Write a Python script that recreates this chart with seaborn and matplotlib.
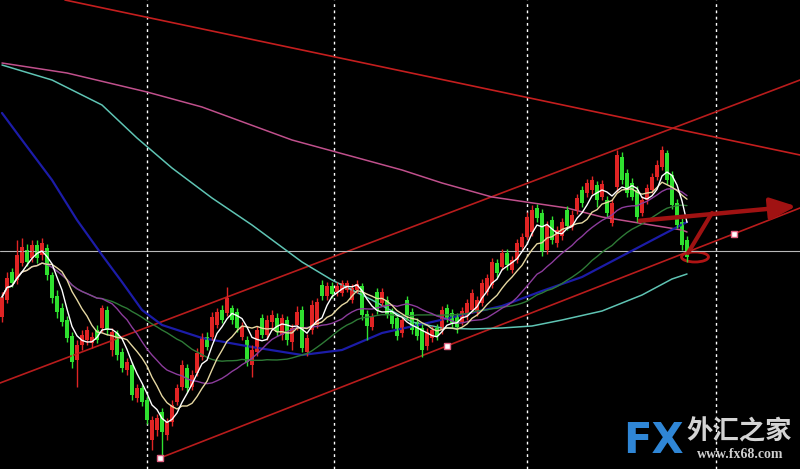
import numpy as np
import pandas as pd
import matplotlib
matplotlib.use('Agg')
import matplotlib.pyplot as plt
from matplotlib.patches import Ellipse
import seaborn as sns

sns.set_theme(style='dark', rc={'axes.facecolor': 'black', 'figure.facecolor': 'black'})
plt.rcParams['font.family'] = ['Noto Sans CJK SC', 'DejaVu Sans']

# candles (price units, one per bar)
opens = [152, 169, 197, 189, 206, 219, 211, 224, 214, 221, 194, 173, 161, 149, 133, 109, 124, 129, 126, 139,
         141, 159, 119, 136, 117, 99, 104, 71, 81, 69, 29, 39, 57, 34, 47, 67, 82, 101, 82, 96,
         112, 132, 132, 144, 159, 156, 161, 157, 132, 129, 104, 117, 151, 134, 147, 151, 134, 149, 127, 144,
         159, 117, 139, 144, 184, 173, 183, 177, 176, 179, 169, 179, 183, 155, 142, 177, 166, 169, 157, 151,
         136, 169, 157, 147, 141, 123, 131, 141, 139, 161, 156, 152, 147, 153, 159, 156, 166, 177, 184, 206,
         202, 216, 199, 209, 222, 232, 237, 261, 256, 219, 249, 226, 233, 259, 242, 259, 279, 276, 279, 284,
         272, 269, 246, 282, 312, 296, 286, 279, 256, 269, 279, 292, 302, 316, 294, 266, 247, 229]
closes = [172, 191, 186, 214, 222, 207, 224, 211, 226, 194, 171, 157, 147, 131, 107, 124, 134, 139, 132, 129,
          161, 139, 137, 114, 101, 107, 74, 81, 67, 49, 49, 51, 37, 47, 64, 81, 104, 81, 94, 116,
          131, 122, 152, 157, 149, 171, 149, 141, 142, 107, 119, 139, 134, 149, 154, 137, 151, 129, 141, 157,
          121, 131, 164, 167, 173, 183, 175, 183, 186, 186, 181, 185, 154, 143, 152, 159, 177, 155, 145, 133,
          149, 153, 139, 133, 119, 137, 139, 133, 159, 151, 146, 142, 158, 166, 176, 169, 186, 191, 207, 196,
          216, 204, 209, 226, 232, 252, 259, 251, 217, 244, 229, 239, 247, 243, 254, 271, 266, 286, 289, 269,
          285, 256, 266, 314, 289, 276, 272, 252, 269, 281, 292, 304, 319, 289, 264, 244, 224, 212]
highs = [177, 197, 201, 229, 231, 225, 229, 229, 231, 225, 197, 179, 166, 153, 137, 129, 139, 143, 137, 144,
         164, 163, 141, 139, 121, 111, 107, 85, 84, 73, 53, 55, 61, 51, 69, 85, 109, 105, 99, 121,
         136, 137, 157, 161, 164, 182, 164, 161, 147, 133, 124, 143, 155, 154, 159, 156, 155, 153, 145, 163,
         163, 135, 169, 171, 189, 187, 187, 187, 189, 189, 185, 189, 186, 159, 156, 181, 181, 173, 161, 155,
         153, 173, 161, 151, 145, 141, 143, 145, 163, 165, 160, 156, 162, 170, 180, 173, 190, 195, 211, 210,
         220, 220, 213, 230, 236, 257, 264, 265, 260, 248, 253, 243, 251, 263, 259, 275, 283, 290, 293, 288,
         289, 273, 270, 319, 317, 300, 291, 283, 273, 285, 296, 309, 323, 319, 298, 270, 251, 233]
lows = [147, 166, 182, 185, 203, 203, 207, 206, 209, 189, 166, 151, 143, 127, 101, 82, 119, 124, 121, 126,
        137, 134, 113, 109, 97, 94, 69, 67, 63, 45, 19, 33, 13, 29, 43, 64, 79, 77, 79, 93,
        109, 119, 129, 141, 146, 153, 145, 137, 129, 103, 92, 113, 131, 129, 139, 133, 129, 124, 119, 139,
        117, 113, 135, 141, 169, 169, 171, 173, 173, 177, 166, 176, 149, 129, 139, 155, 163, 151, 141, 129,
        132, 149, 135, 129, 112, 119, 127, 129, 135, 147, 141, 136, 144, 149, 156, 153, 163, 174, 181, 192,
        199, 199, 196, 206, 219, 229, 233, 247, 213, 215, 225, 222, 229, 239, 239, 255, 262, 272, 275, 262,
        269, 252, 243, 277, 285, 272, 269, 247, 253, 265, 276, 289, 299, 285, 260, 241, 219, 207]

# slow moving averages (bar index, price)
ma_blue_x = [0, 4, 10, 15, 20, 24, 28, 32, 40, 50, 60, 68, 76, 86, 92, 100, 108, 116, 124, 132, 137]
ma_blue_y = [356, 329, 289, 249, 214, 187, 159, 144, 131, 122, 114, 119, 136, 147, 154, 163, 178, 192, 213, 234, 247]
ma_cyan_x = [0, 10, 20, 27, 34, 42, 50, 60, 66, 74, 82, 88, 94, 100, 106, 112, 120, 128, 134, 137]
ma_cyan_y = [404, 389, 364, 331, 301, 271, 244, 207, 189, 169, 147, 141, 140, 141, 143, 149, 158, 174, 190, 195]
ma_pink_x = [0, 13, 29, 40, 58, 80, 88, 98, 113, 120, 136, 137]
ma_pink_y = [406, 396, 377, 362, 329, 299, 286, 272, 261, 252, 239, 237]

# trend lines drawn on the chart
top_line_x, top_line_y = [12.6, 159.6], [469, 314]
channel_up_x, channel_up_y = [-0.4, 159.6], [86, 389]
channel_low_x, channel_low_y = [31.6, 159.6], [11, 261]
anchor_x, anchor_y = [31.6, 89, 146.4], [11, 123, 235]
last_price = 218

df = pd.DataFrame({'open': opens, 'close': closes, 'high': highs, 'low': lows})
df['idx'] = df.index
df['ma5'] = df['close'].rolling(5, min_periods=1).mean()
df['ma10'] = df['close'].rolling(10, min_periods=1).mean()
df['ma20'] = df['close'].rolling(20, min_periods=1).mean()
df['ma34'] = df['close'].rolling(34, min_periods=1).mean()

fig = plt.figure(figsize=(8, 4.69), dpi=100)
ax = fig.add_axes([0, 0, 1, 1])
ax.set_facecolor('black')

# trend lines
ax.plot(top_line_x, top_line_y, color='#c41e1e', lw=1.2)
ax.plot(channel_up_x, channel_up_y, color='#b81c1c', lw=1.2)
ax.plot(channel_low_x, channel_low_y, color='#b81c1c', lw=1.2)
ax.axhline(last_price, color='#b8b8b8', lw=0.8)

# slow MAs
sns.lineplot(x=ma_pink_x, y=ma_pink_y, ax=ax, color='#c0508c', lw=1.1, estimator=None, sort=False)
sns.lineplot(x=ma_cyan_x, y=ma_cyan_y, ax=ax, color='#5fc4b4', lw=1.1, estimator=None, sort=False)
sns.lineplot(x=ma_blue_x, y=ma_blue_y, ax=ax, color='#1c1ca8', lw=1.6, estimator=None, sort=False)

# candles
up = df['close'] >= df['open']
col = np.where(up, '#e02424', '#2fe02f')
ax.vlines(df['idx'], df['low'], df['high'], colors=col, lw=1)
body = (df['close'] - df['open']).where(lambda s: s.abs() > 1.5, 1.5)
ax.bar(df['idx'], body, bottom=df['open'], width=0.7, color=col, linewidth=0)

# fast MAs
sns.lineplot(data=df, x='idx', y='ma34', ax=ax, color='#2e7a36', lw=1.0)
sns.lineplot(data=df, x='idx', y='ma20', ax=ax, color='#8c3c9c', lw=1.0)
sns.lineplot(data=df, x='idx', y='ma10', ax=ax, color='#e6d8a2', lw=1.0)
sns.lineplot(data=df, x='idx', y='ma5', ax=ax, color='#ffffff', lw=1.0)

ax.plot(anchor_x, anchor_y, 's', ms=4, mfc='white', mec='#e06080', mew=1)

# hand drawn annotation
ax.annotate('', xy=(159.4, 263), xytext=(127, 248), annotation_clip=False,
            arrowprops=dict(arrowstyle='-|>,head_length=1.3,head_width=0.55', lw=3.2, color='#a01212'))
ax.plot([137.2, 142], [216, 256], color='#a01212', lw=3, solid_capstyle='round')
ax.add_patch(Ellipse((138.6, 212), 5.4, 10, fill=False, ec='#b01414', lw=2))

ax.set_xlim(-0.4, 159.6)
ax.set_ylim(0, 469)
ax.set_xticks([29, 66.4, 105, 142.8])
ax.set_yticks([])
ax.tick_params(length=0, labelbottom=False)
ax.grid(axis='x', color='white', ls=(0, (2, 2.5)), lw=1)
ax.grid(axis='y', visible=False)
ax.set_xlabel('')
ax.set_ylabel('')
for s in ax.spines.values():
    s.set_visible(False)

# watermark
ax.text(0.779, 0.06, 'FX', transform=ax.transAxes, fontsize=30, fontweight='bold',
        family='DejaVu Sans', color='#2f86d6', va='center', ha='left')
ax.text(0.924, 0.079, '外汇之家', transform=ax.transAxes, fontsize=19, fontweight='bold',
        color='#d4d4d4', va='center', ha='center')
ax.text(0.925, 0.03, 'www.fx68.com', transform=ax.transAxes, fontsize=10, fontweight='bold',
        family='Liberation Serif', color='#cfcfcf', va='center', ha='center')

fig.savefig('out.png', dpi=100, facecolor='black')
